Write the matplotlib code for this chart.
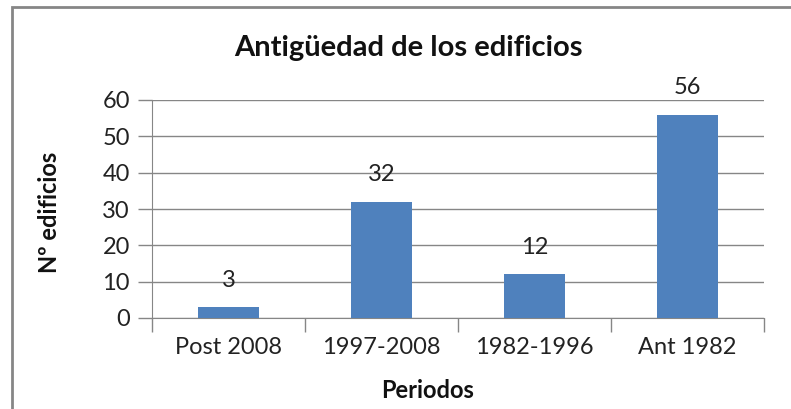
import matplotlib.pyplot as plt
from matplotlib.patches import Rectangle

periodos = ['Post 2008', '1997-2008', '1982-1996', 'Ant 1982']
edificios = [3, 32, 12, 56]
yticks = [0, 10, 20, 30, 40, 50, 60]

plt.rcParams['font.family'] = ['Lato', 'DejaVu Sans']

fig = plt.figure(figsize=(7.91, 4.09), dpi=100)
ax = fig.add_axes([152/791, 1 - 318/409, (764 - 152)/791, (318 - 100)/409])

x = list(range(len(periodos)))
ax.bar(x, edificios, width=0.4, color='#4F81BD', zorder=3)

# etiquetas de datos encima de cada barra
for xi, v in zip(x, edificios):
    ax.annotate(str(v), (xi, v), xytext=(0, 27), textcoords='offset pixels',
                ha='center', va='center', fontsize=17, color='#222222')

ax.set_xlim(-0.5, len(periodos) - 0.5)
ax.set_ylim(0, 60)
ax.set_yticks(yticks)
ax.set_yticklabels([str(t) for t in yticks], fontsize=17, color='#222222')
ax.yaxis.grid(True, color='#868686', linewidth=1, zorder=0)

ax.set_xticks(x)
ax.set_xticklabels(periodos, fontsize=17, color='#222222')
ax.tick_params(axis='x', length=0, pad=14)
ax.set_xticks([i - 0.5 for i in range(len(periodos) + 1)], minor=True)
ax.tick_params(axis='x', which='minor', length=10, color='#868686', width=1)
ax.tick_params(axis='y', length=10, color='#868686', width=1, pad=6)

for side in ['top', 'right']:
    ax.spines[side].set_visible(False)
ax.spines['left'].set_color('#868686')
ax.spines['bottom'].set_color('#868686')

fig.text(408/791, 1 - 48/409, 'Antigüedad de los edificios', ha='center', va='center',
         fontsize=21, fontweight='bold', color='#111111')
fig.text(50/791, 1 - 212/409, 'Nº edificios', ha='center', va='center', rotation=90,
         fontsize=17, fontweight='bold', color='#111111')
fig.text(428/791, 1 - 391/409, 'Periodos', ha='center', va='center',
         fontsize=17, fontweight='bold', color='#111111')

# marco del gráfico
fig.patches.append(Rectangle((12/791, -0.1), 1.1, 1 - 7/409 + 0.1, transform=fig.transFigure,
                             fill=False, edgecolor='#868686', linewidth=2, clip_on=False))

fig.savefig('out.png', dpi=100)
